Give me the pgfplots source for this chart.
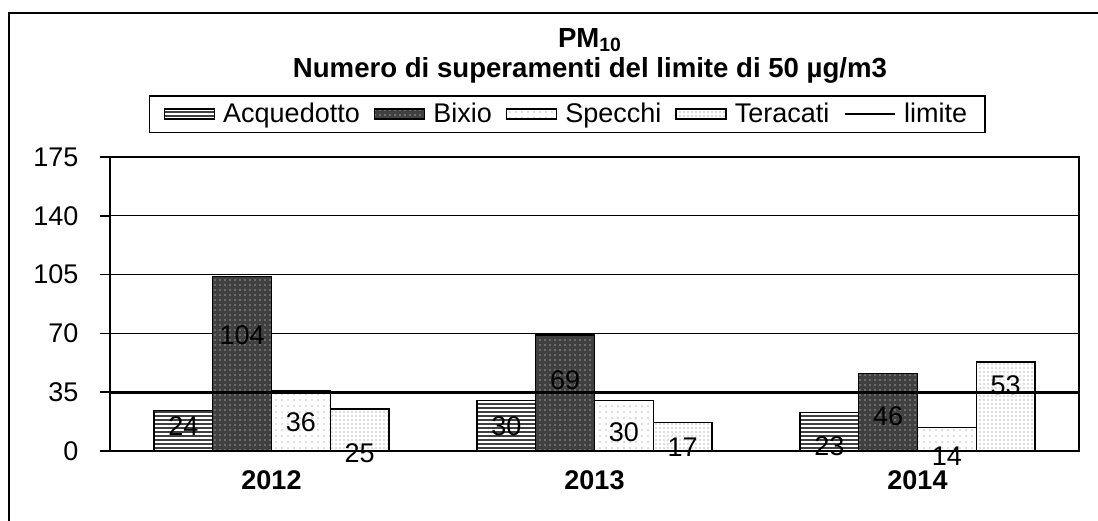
\documentclass[border=0pt]{standalone}
\usepackage{fontspec}
\setmainfont{Liberation Sans}
\usepackage{pgfplots}
\usepackage{pgfplotstable}
\pgfplotsset{compat=1.18}
\usetikzlibrary{patterns.meta}

% values per station, ly = where the scanned data label sits
\pgfplotstableread{
x y ly
0 24 15
1 30 15
2 23 3
}\acq
\pgfplotstableread{
x y ly
0 104 69
1 69 42
2 46 21
}\bix
\pgfplotstableread{
x y ly
0 36 17
1 30 11
2 14 -3
}\spe
\pgfplotstableread{
x y ly
0 25 -1.5
1 17 2
2 53 39
}\ter

\newcommand{\chartfont}{\fontsize{13.5}{15}\selectfont}

\pgfplotsset{
  barleg/.style={legend image code/.code={\draw[##1] (0pt,-2.5pt) rectangle (25pt,2.5pt);\path (27pt,0pt);}},
  lineleg/.style={legend image code/.code={\draw[##1] (0pt,0pt) -- (25pt,0pt);\path (27pt,0pt);}},
  barlabel/.style={forget plot, draw=none, mark=none, nodes near coords,
    point meta=explicit,
    every node near coord/.append style={anchor=center, inner sep=0pt, font=\chartfont, black}},
}
\tikzset{
  acq/.style={draw=black, line width=0.75pt, fill=white,
    postaction={pattern={Lines[angle=0,distance=2pt,line width=0.7pt]}, pattern color=black!75}},
  bix/.style={draw=black, line width=0.75pt, fill=black!75,
    postaction={pattern={Dots[distance=2.5pt,radius=0.35pt]}, pattern color=white}},
  spe/.style={draw=black, line width=0.75pt, fill=white,
    postaction={pattern={Dots[distance=3pt,radius=0.3pt]}, pattern color=black!55}},
  ter/.style={draw=black, line width=0.75pt, fill=white,
    postaction={pattern={Dots[distance=2pt,radius=0.3pt]}, pattern color=black!55}},
}

\begin{document}
\begin{tikzpicture}
\path[use as bounding box] (0pt,0pt) rectangle (549pt,-260pt);
\begin{scope}
\clip (0pt,0pt) rectangle (549pt,-260pt);
\draw[line width=0.75pt] (4.5pt,-280pt) -- (4.5pt,-6.5pt) -- (570pt,-6.5pt);
\end{scope}

\node[font=\fontsize{13.8}{16}\selectfont\bfseries] at (295pt,-20pt) {PM\textsubscript{10}};
\node[font=\fontsize{13.8}{16}\selectfont\bfseries] at (295pt,-35pt) {Numero di superamenti del limite di 50 µg/m3};

\begin{axis}[
  at={(55pt,-225.5pt)}, anchor=south west,
  width=484.5pt, height=147pt, scale only axis,
  xmin=-0.5, xmax=2.5, ymin=0, ymax=175,
  ytick={0,35,...,175},
  xtick={0,1,2}, xticklabels={2012,2013,2014},
  extra x ticks={-0.5,0.5,1.5,2.5}, extra x tick labels={},
  x tick style={/pgfplots/major tick length=0pt},
  extra x tick style={major tick length=4pt, grid=none},
  y tick style={/pgfplots/major tick length=5pt},
  tick align=outside, tick pos=left,
  ymajorgrids, grid style={black, line width=0.6pt},
  axis line style={line width=0.75pt},
  tick style={black, line width=0.75pt},
  clip=false,
  /pgf/number format/assume math mode=true,
  ticklabel style={font=\chartfont},
  yticklabel style={xshift=-8pt},
  xticklabel style={font=\chartfont\bfseries, anchor=center, yshift=-10.5pt},
  legend style={at={(0.0402,1.146)}, anchor=west, draw=black, line width=0.75pt,
    legend columns=-1, font=\chartfont, inner xsep=7pt, inner ysep=1.5pt,
    /tikz/every even column/.append style={column sep=5pt}},
  legend cell align=left,
]
\addplot[ybar, bar width=29.4pt, bar shift=-44.1pt, acq, barleg] table[x=x, y=y] {\acq};
\addlegendentry{Acquedotto}
\addplot[ybar, bar width=29.4pt, bar shift=-14.7pt, bix, barleg] table[x=x, y=y] {\bix};
\addlegendentry{Bixio}
\addplot[ybar, bar width=29.4pt, bar shift=14.7pt, spe, barleg] table[x=x, y=y] {\spe};
\addlegendentry{Specchi}
\addplot[ybar, bar width=29.4pt, bar shift=44.1pt, ter, barleg] table[x=x, y=y] {\ter};
\addlegendentry{Teracati}
\addplot[black, line width=1.3pt, lineleg] coordinates {(-0.5,35) (2.5,35)};
\addlegendentry{limite}

\addplot[barlabel] table[x expr=\thisrow{x}-0.273, y=ly, meta=y] {\acq};
\addplot[barlabel] table[x expr=\thisrow{x}-0.091, y=ly, meta=y] {\bix};
\addplot[barlabel] table[x expr=\thisrow{x}+0.091, y=ly, meta=y] {\spe};
\addplot[barlabel] table[x expr=\thisrow{x}+0.273, y=ly, meta=y] {\ter};
\end{axis}
\end{tikzpicture}
\end{document}
